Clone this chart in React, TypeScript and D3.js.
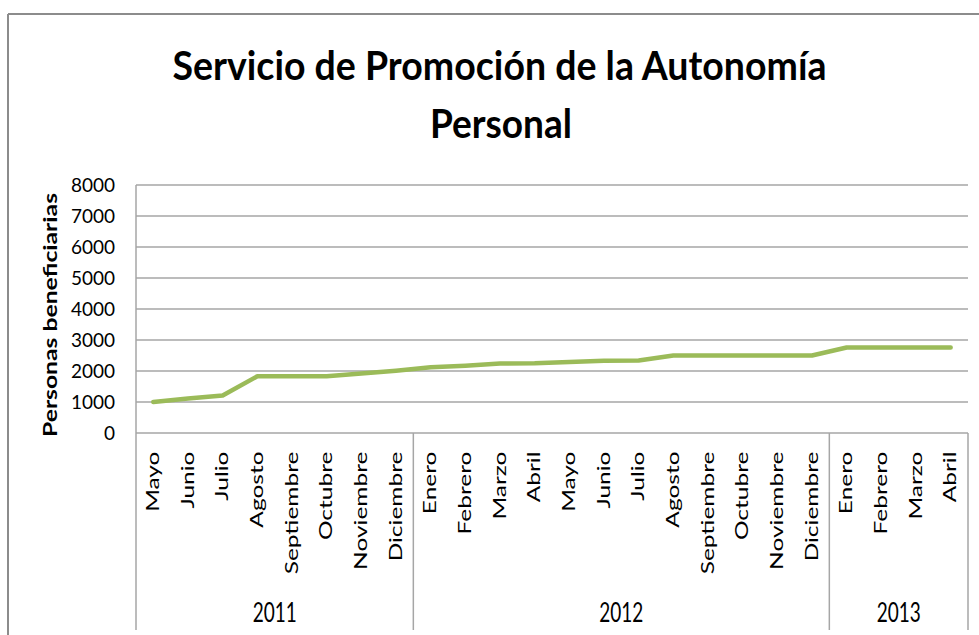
import * as d3 from "d3";

const W = 979;
const H = 635;

// monthly beneficiaries by year
const months2011 = ["Mayo", "Junio", "Julio", "Agosto", "Septiembre", "Octubre", "Noviembre", "Diciembre"];
const values2011 = [1000, 1110, 1210, 1830, 1830, 1830, 1920, 2010];

const months2012 = ["Enero", "Febrero", "Marzo", "Abril", "Mayo", "Junio", "Julio", "Agosto", "Septiembre", "Octubre", "Noviembre", "Diciembre"];
const values2012 = [2120, 2170, 2240, 2250, 2290, 2330, 2340, 2500, 2500, 2500, 2500, 2500];

const months2013 = ["Enero", "Febrero", "Marzo", "Abril"];
const values2013 = [2760, 2760, 2760, 2760];

const years = ["2011", "2012", "2013"];
const yTicks = [0, 1000, 2000, 3000, 4000, 5000, 6000, 7000, 8000];

const plotLeft = 136;
const plotRight = 968;
const plotTop = 185;
const plotBottom = 433;
const axisBottom = 630;

const font = "Lato, 'Open Sans', sans-serif";
const gridColor = "#a6a6a6";

const App = () => {
  const groups = [
    { year: years[0], months: months2011, values: values2011 },
    { year: years[1], months: months2012, values: values2012 },
    { year: years[2], months: months2013, values: values2013 },
  ];

  const rows = groups.flatMap((g) =>
    g.months.map((m, i) => ({ key: `${g.year}-${m}`, month: m, year: g.year, value: g.values[i] }))
  );

  const xScale = d3
    .scaleBand()
    .domain(rows.map((d) => d.key))
    .range([plotLeft, plotRight])
    .padding(0);

  const yScale = d3.scaleLinear().domain([0, 8000]).range([plotBottom, plotTop]);

  const cx = (k) => xScale(k) + xScale.bandwidth() / 2;

  const line = d3
    .line()
    .x((d) => cx(d.key))
    .y((d) => yScale(d.value));

  // group boundaries for the two-level category axis
  let start = 0;
  const spans = groups.map((g) => {
    const first = rows[start].key;
    const last = rows[start + g.months.length - 1].key;
    start += g.months.length;
    return {
      year: g.year,
      x0: xScale(first),
      x1: xScale(last) + xScale.bandwidth(),
    };
  });
  const dividers = [plotLeft, ...spans.map((s) => s.x1)];

  return (
    <svg width={W} height={H} style={{ position: "absolute", left: 0, top: 0, background: "#fff" }}>
      {/* outer frame */}
      <line x1={8} x2={W} y1={14} y2={14} stroke="#8c8c8c" strokeWidth={2} />
      <line x1={8} x2={8} y1={14} y2={H} stroke="#8c8c8c" strokeWidth={2} />

      {/* title */}
      <g fontFamily={font} fontWeight="bold" fill="#000" textAnchor="middle">
        <text x={499.5} y={80} fontSize={41} textLength={654} lengthAdjust="spacingAndGlyphs">
          Servicio de Promoción de la Autonomía
        </text>
        <text x={501} y={138} fontSize={41} textLength={142} lengthAdjust="spacingAndGlyphs">
          Personal
        </text>
      </g>

      {/* gridlines */}
      <g className="grid">
        {yTicks.map((t) => (
          <line key={t} x1={plotLeft} x2={plotRight} y1={yScale(t)} y2={yScale(t)} stroke={gridColor} strokeWidth={1.5} />
        ))}
      </g>
      <line x1={plotLeft} x2={plotLeft} y1={plotTop} y2={plotBottom} stroke={gridColor} strokeWidth={1.5} />

      {/* y tick labels */}
      <g fontFamily={font} fontSize={19} fill="#000" textAnchor="end">
        {yTicks.map((t) => (
          <text key={t} x={115} y={yScale(t) + 7}>
            {t}
          </text>
        ))}
      </g>

      {/* y axis title */}
      <text
        transform={`translate(56.5,315) rotate(-90)`}
        textAnchor="middle"
        fontFamily={font}
        fontWeight="bold"
        fontSize={18}
        textLength={244}
        lengthAdjust="spacingAndGlyphs"
      >
        Personas beneficiarias
      </text>

      {/* category axis dividers */}
      {dividers.map((x, i) => (
        <line key={i} x1={x} x2={x} y1={plotBottom} y2={axisBottom} stroke={gridColor} strokeWidth={1.5} />
      ))}

      {/* month labels */}
      <g fontFamily={font} fontSize={17} fill="#000" textAnchor="end">
        {rows.map((d) => (
          <text key={d.key} transform={`translate(${cx(d.key) + 5.5},451.5) rotate(-90) scale(1.44,1)`}>
            {d.month}
          </text>
        ))}
      </g>

      {/* year labels */}
      <g fontFamily={font} fontSize={19} fill="#000" textAnchor="middle">
        {spans.map((s) => (
          <text key={s.year} transform={`translate(${(s.x0 + s.x1) / 2},622) scale(1,1.38)`}>
            {s.year}
          </text>
        ))}
      </g>

      {/* series */}
      <path
        d={line(rows)}
        fill="none"
        stroke="#9bbb59"
        strokeWidth={4.5}
        strokeLinejoin="round"
        strokeLinecap="round"
      />
    </svg>
  );
};

export default App;
